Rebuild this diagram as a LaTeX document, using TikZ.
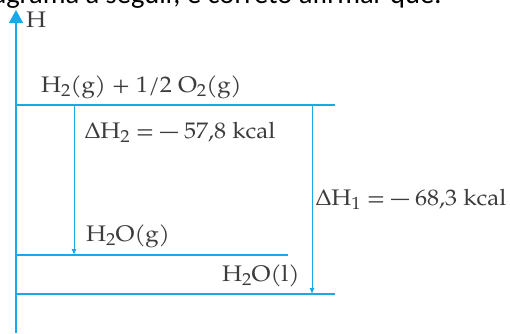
\documentclass[tikz,border=0pt]{standalone}
\usepackage{fontspec}
\setmainfont{TeX Gyre Pagella}[FakeStretch=1.07]
\newfontfamily\questfont{Carlito}
\usetikzlibrary{arrows.meta}
\definecolor{dg-cyan}{RGB}{24,170,230}
\definecolor{dg-text}{RGB}{60,60,60}
\newcommand\dgsub[1]{\raisebox{-4.5pt}{\fontsize{17.5}{18}\selectfont #1}}
\newcommand\dgminus{\scalebox{1.5}[1]{–}}

\begin{document}
\begin{tikzpicture}[x=1pt,y=-1pt,
    level/.style={dg-cyan, line width=1.3pt},
    dharrow/.style={dg-cyan, line width=1pt, -{Latex[length=6pt,width=5pt]}},
    lbl/.style={dg-text, font=\fontsize{22.5}{27}\selectfont, inner sep=0pt, anchor=base west}]

\useasboundingbox (0,0) rectangle (510,333);
\clip (0,0) rectangle (510,333);

% question line, cut at the top
\node[anchor=base east, inner sep=0pt, font=\questfont\fontsize{28.5}{34}\selectfont]
    (quest) at (442,3.5) {diagrama a seguir, é correto afirmar que:};

% axis
\coordinate (axbot) at (16,333);
\coordinate (axtop) at (16,10);
\draw[dg-cyan, line width=1.5pt, -{Triangle[length=13pt,width=14pt]}] (axbot) -- (axtop);
\node[lbl, anchor=west] (hlbl) at (26,20) {H};

% levels
\coordinate (reagL) at (16,105);  \coordinate (reagR) at (335,105);
\coordinate (gasL)  at (16,255);  \coordinate (gasR)  at (288,255);
\coordinate (liqL)  at (16,294);  \coordinate (liqR)  at (335,294);
\draw[level] (reagL) -- (reagR);
\draw[level] (gasL) -- (gasR);
\draw[level] (liqL) -- (liqR);

% enthalpy changes
\coordinate (dhtwoA) at (74,105);  \coordinate (dhtwoB) at (74,255);
\coordinate (dhoneA) at (312,105); \coordinate (dhoneB) at (312,294);
\draw[dharrow] (dhtwoA) -- (dhtwoB);
\draw[dharrow] (dhoneA) -- (dhoneB);

% labels
\node[lbl] (reagtxt) at (41,92)  {H\dgsub{2}(g) + 1/2 O\dgsub{2}(g)};
\node[lbl] (dhtwo)   at (85,138) {ΔH\dgsub{2} = \dgminus\ 57,8 kcal};
\node[lbl] (dhone)   at (316,205) {ΔH\dgsub{1} = \dgminus\ 68,3 kcal};
\node[lbl] (gastxt)  at (86,241) {H\dgsub{2}O(g)};
\node[lbl] (liqtxt)  at (222,281) {H\dgsub{2}O(l)};

\end{tikzpicture}
\end{document}
